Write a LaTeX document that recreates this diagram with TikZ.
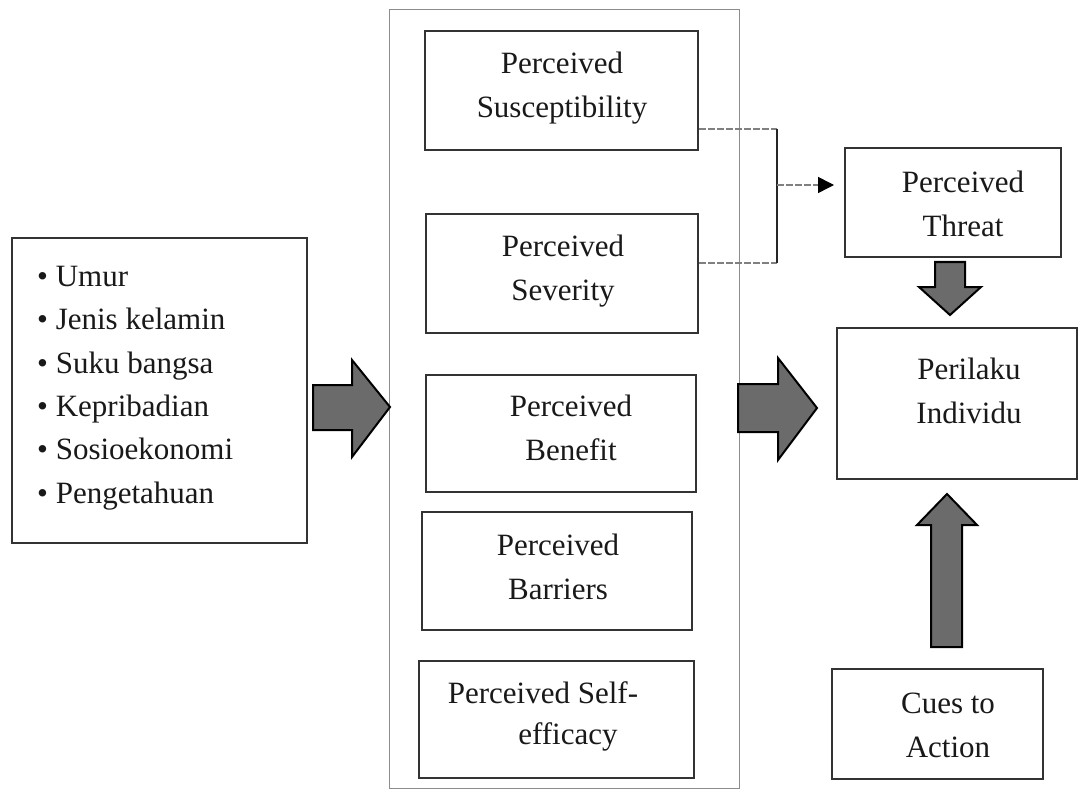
\documentclass[tikz,border=0pt]{standalone}
\usepackage{fontspec}
\setmainfont{Liberation Serif}
\usetikzlibrary{arrows.meta,calc}
\begin{document}
\begin{tikzpicture}[x=1pt,y=-1pt,
  box/.style={draw=black!80, line width=2pt, fill=white, inner sep=0pt},
  txt/.style={inner sep=0pt, align=center, text=black!90, font=\fontsize{31}{44}\selectfont},
  fat/.style={draw=black, line width=2pt, fill=black!58, line join=miter},
  thinlink/.style={draw=black!50, line width=1.5pt, dash pattern=on 7pt off 2pt},
  frame/.style={draw=black!45, line width=1pt, inner sep=0pt}
]
\useasboundingbox (0,0) rectangle (1078,794);
\fill[white] (0,0) rectangle (1078,794);

% container
\node[frame, minimum width=350pt, minimum height=778pt] (frame) at (564,399) {};

% left list
\node[box, minimum width=295pt, minimum height=305pt] (left) at (159.5,390.5) {};
\node[txt, align=left, anchor=west, font=\fontsize{31}{43.4}\selectfont] (list) at (37,388)
  {• Umur\\• Jenis kelamin\\• Suku bangsa\\• Kepribadian\\• Sosioekonomi\\• Pengetahuan};

% middle boxes
\node[box, minimum width=273pt, minimum height=119pt] (sus) at (561.5,90.5) {};
\node[txt] (sus-t) at (562,88) {Perceived\\Susceptibility};
\node[box, minimum width=272pt, minimum height=119pt] (sev) at (562,273.5) {};
\node[txt] (sev-t) at (563,271) {Perceived\\Severity};
\node[box, minimum width=270pt, minimum height=117pt] (ben) at (561,433.5) {};
\node[txt] (ben-t) at (571,428) {Perceived\\Benefit};
\node[box, minimum width=270pt, minimum height=118pt] (bar) at (557,571) {};
\node[txt] (bar-t) at (558,567) {Perceived\\Barriers};
\node[box, minimum width=275pt, minimum height=117pt] (self) at (556.5,719.5) {};
\node[txt] (self-t1) at (543,693) {Perceived Self-};
\node[txt] (self-t2) at (568,737) {efficacy};

% right boxes
\node[box, minimum width=216pt, minimum height=109pt] (threat) at (953,202.5) {};
\node[txt] (threat-t) at (963,204) {Perceived\\Threat};
\node[box, minimum width=240pt, minimum height=151pt] (peri) at (957,403.5) {};
\node[txt] (peri-t) at (969,391) {Perilaku\\Individu};
\node[box, minimum width=211pt, minimum height=110pt] (cues) at (937.5,724) {};
\node[txt] (cues-t) at (948,725) {Cues to\\Action};

% bracket connector
\coordinate (j1) at (777,129);
\coordinate (j2) at (777,263);
\coordinate (jm) at (777,185);
\draw[thinlink] (sus.south east |- j1) -- (j1);
\draw[thinlink] (sev.north east |- j2) -- (j2);
\draw[black!85, line width=2.5pt] (j1) -- (j2);
\draw[thinlink, shorten >=10pt, -{Triangle[length=16pt,width=16pt,color=black]}] (jm) -- (threat.west |- jm);

% fat arrows
\draw[fat] (313,385) -- (352,385) -- (352,360) -- (390,407) -- (352,457) -- (352,430) -- (313,430) -- cycle;
\draw[fat] (738,384) -- (778,384) -- (778,358) -- (817,408) -- (778,460) -- (778,432) -- (738,432) -- cycle;
\draw[fat] (935,262) -- (965,262) -- (965,287) -- (981,287) -- (950,315) -- (919,287) -- (935,287) -- cycle;
\draw[fat] (931,647) -- (962,647) -- (962,525) -- (977,525) -- (947,494) -- (917,525) -- (931,525) -- cycle;
\end{tikzpicture}
\end{document}
